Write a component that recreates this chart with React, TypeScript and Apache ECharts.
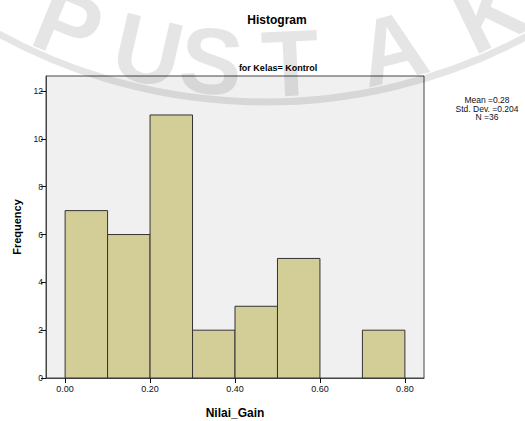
import React, { useEffect, useRef } from "react";
import * as echarts from "echarts";

const binStarts = [0.0, 0.1, 0.2, 0.3, 0.4, 0.5, 0.6, 0.7];
const binWidth = 0.1;
const counts = [7, 6, 11, 2, 3, 5, 0, 2];
const xTicks = [0.0, 0.2, 0.4, 0.6, 0.8];
const yTicks = [0, 2, 4, 6, 8, 10, 12];
const statsLines = ["Mean =0.28", "Std. Dev. =0.204", "N =36"];
const watermarkLetters = ["P", "U", "S", "T", "A", "K", "A"];
const watermarkAngles = [-0.39, -0.228, -0.104, 0.049, 0.248, 0.45, 0.68];

export default function App() {
  const ref = useRef<HTMLDivElement>(null);
  useEffect(() => {
    if (!ref.current) return;
    document.body.style.margin = "0";
    const chart = echarts.init(ref.current, null, { renderer: "svg" });
    const font = "'Liberation Sans', Arial, sans-serif";
    const cx = 265;
    const cy = -453;
    const letterR = 517;
    const wm: any[] = watermarkLetters.map((ch, i) => {
      const t = watermarkAngles[i];
      return {
        type: "text",
        x: cx + letterR * Math.sin(t),
        y: cy + letterR * Math.cos(t),
        rotation: t,
        z: 100,
        silent: true,
        style: {
          text: ch,
          fill: "rgba(0,0,0,0.1)",
          font: `bold 94px ${font}`,
          textAlign: "center",
          textVerticalAlign: "middle",
        },
      };
    });
    wm.push({
      type: "circle",
      z: 100,
      silent: true,
      shape: { cx, cy, r: 555 },
      style: { stroke: "rgba(0,0,0,0.1)", lineWidth: 7, fill: "none" },
    });

    const data = binStarts.map((s, i) => [s, s + binWidth, counts[i]]);

    chart.setOption({
      animation: false,
      backgroundColor: "#ffffff",
      grid: {
        left: 46,
        top: 76,
        width: 378,
        height: 302,
        outerBoundsMode: "none",
        containLabel: false,
        show: true,
        backgroundColor: "#f0f0f0",
        borderColor: "#444444",
        borderWidth: 1,
      },
      xAxis: {
        type: "value",
        min: -0.045,
        max: 0.845,
        name: "Nilai_Gain",
        nameLocation: "middle",
        nameGap: 29,
        nameTextStyle: { fontFamily: font, fontWeight: "bold", fontSize: 12, color: "#000" },
        splitLine: { show: false },
        axisLine: { show: true, onZero: false, lineStyle: { color: "#444", width: 1 } },
        axisTick: { show: true, length: 5, customValues: xTicks, lineStyle: { color: "#111" } },
        axisLabel: {
          customValues: xTicks,
          formatter: (v: number) => v.toFixed(2),
          fontFamily: font,
          fontSize: 9,
          color: "#111",
          margin: 6,
        },
      },
      yAxis: {
        type: "value",
        min: 0,
        max: 12.63,
        name: "Frequency",
        nameLocation: "middle",
        nameGap: 23,
        nameRotate: 90,
        nameTextStyle: { fontFamily: font, fontWeight: "bold", fontSize: 11, color: "#000" },
        splitLine: { show: false },
        axisLine: { show: true, onZero: false, lineStyle: { color: "#444", width: 1 } },
        axisTick: { show: true, length: 5, customValues: yTicks, lineStyle: { color: "#111" } },
        axisLabel: {
          customValues: yTicks,
          fontFamily: font,
          fontSize: 8.5,
          color: "#111",
          margin: 3,
        },
      },
      graphic: [
        {
          type: "text",
          x: 277,
          y: 20,
          style: {
            text: "Histogram",
            font: `bold 12px ${font}`,
            fill: "#000",
            textAlign: "center",
            textVerticalAlign: "middle",
          },
        },
        {
          type: "text",
          x: 278,
          y: 68,
          style: {
            text: "for Kelas= Kontrol",
            font: `bold 9px ${font}`,
            fill: "#000",
            textAlign: "center",
            textVerticalAlign: "middle",
          },
        },
        {
          type: "text",
          x: 487,
          y: 96,
          style: {
            text: statsLines.join("\n"),
            font: `8.5px 'Liberation Sans Narrow', ${font}`,
            lineHeight: 8.5,
            fill: "#111",
            textAlign: "center",
            textVerticalAlign: "top",
          },
        },
        ...wm,
      ],
      series: [
        {
          type: "custom",
          renderItem: (params: any, api: any) => {
            const x0 = api.value(0);
            const x1 = api.value(1);
            const c = api.value(2);
            if (!c) return null;
            const p0 = api.coord([x0, 0]);
            const p1 = api.coord([x1, c]);
            return {
              type: "rect",
              shape: { x: p0[0], y: p1[1], width: p1[0] - p0[0], height: p0[1] - p1[1] },
              style: { fill: "#d3ce97", stroke: "#333333", lineWidth: 1 },
            };
          },
          encode: { x: [0, 1], y: 2 },
          data,
        },
      ],
    });
    return () => chart.dispose();
  }, []);
  return <div ref={ref} style={{ width: 525, height: 421 }} />;
}
